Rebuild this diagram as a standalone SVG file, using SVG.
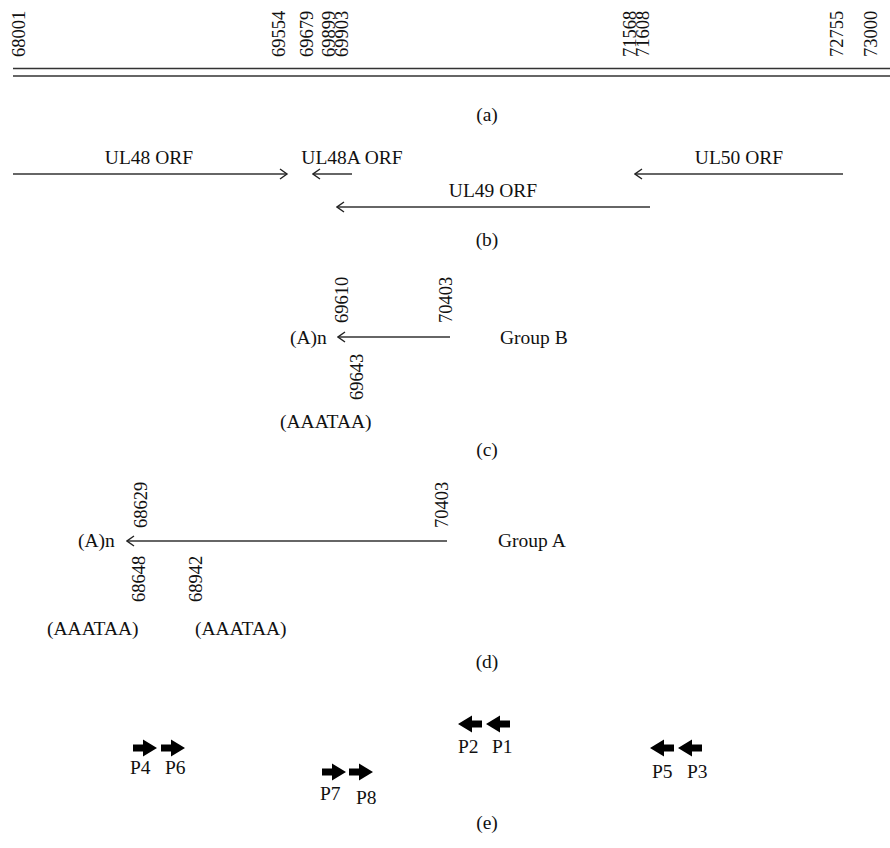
<svg xmlns="http://www.w3.org/2000/svg" width="890" height="848" viewBox="0 0 890 848" font-family="'Liberation Serif', 'Times New Roman', 'DejaVu Serif', serif">
  <style>
    text { font-family: "Liberation Serif", "Times New Roman", "DejaVu Serif", serif; font-size: 19.5px; fill: #111; }
    .num { font-size: 18.5px; }
    .mid { text-anchor: middle; }
    .ln { stroke: #333; stroke-width: 1.4; fill: none; }
  </style>
  <defs>
    <!-- open chevron head, tip at the line end -->
    <marker id="chev" viewBox="0 0 10 12" refX="8.5" refY="6" markerWidth="10" markerHeight="12" markerUnits="userSpaceOnUse" orient="auto">
      <path d="M1.5,1 L8.5,6 L1.5,11" fill="none" stroke="#222" stroke-width="1.4"/>
    </marker>
    <!-- solid primer arrow, pointing right -->
    <path id="blk" d="M0,-3.5 H10 V-8.5 L24,0 L10,8.5 V3.5 H0 Z" fill="#000"/>
  </defs>
  <rect width="890" height="848" fill="#fff"/>

  <!-- (a) genome coordinate scale -->
  <g id="scale">
    <line class="ln" x1="13" y1="68.5" x2="890" y2="68.5"/>
    <line class="ln" x1="13" y1="76" x2="890" y2="76"/>
    <text class="num" transform="translate(25,57) rotate(-90)">68001</text>
    <text class="num" transform="translate(285,57) rotate(-90)">69554</text>
    <text class="num" transform="translate(313,57) rotate(-90)">69679</text>
    <text class="num" transform="translate(335,57) rotate(-90)">69899</text>
    <text class="num" transform="translate(348,57) rotate(-90)">69903</text>
    <text class="num" transform="translate(636,57) rotate(-90)">71568</text>
    <text class="num" transform="translate(649,57) rotate(-90)">71608</text>
    <text class="num" transform="translate(843,57) rotate(-90)">72755</text>
    <text class="num" transform="translate(877,57) rotate(-90)">73000</text>
    <text class="mid" x="487" y="121">(a)</text>
  </g>

  <!-- (b) open reading frames -->
  <g id="orfs">
    <g id="ul48">
      <text class="mid" x="149" y="164">UL48 ORF</text>
    </g>
    <g id="ul48a">
      <text class="mid" x="352" y="164">UL48A ORF</text>
    </g>
    <g id="ul49">
      <text class="mid" x="493" y="197">UL49 ORF</text>
    </g>
    <g id="ul50">
      <text class="mid" x="739" y="164">UL50 ORF</text>
    </g>
    <text class="mid" x="487" y="246">(b)</text>
  </g>

  <!-- (c) Group B transcript -->
  <g id="groupB">
    <text class="num" transform="translate(348,323) rotate(-90)">69610</text>
    <text class="num" transform="translate(452,323) rotate(-90)">70403</text>
    <text class="num" transform="translate(363,400) rotate(-90)">69643</text>
    <text x="290" y="344">(A)n</text>
    <text x="500" y="344">Group B</text>
    <text x="280" y="428">(AAATAA)</text>
    <text class="mid" x="487" y="456">(c)</text>
  </g>

  <!-- (d) Group A transcript -->
  <g id="groupA">
    <text class="num" transform="translate(147,528) rotate(-90)">68629</text>
    <text class="num" transform="translate(448,528) rotate(-90)">70403</text>
    <text class="num" transform="translate(145,602) rotate(-90)">68648</text>
    <text class="num" transform="translate(202,602) rotate(-90)">68942</text>
    <text x="78" y="547">(A)n</text>
    <text x="498" y="547">Group A</text>
    <text x="47" y="635">(AAATAA)</text>
    <text x="195" y="635">(AAATAA)</text>
    <text class="mid" x="487" y="668">(d)</text>
  </g>

  <!-- (e) primer positions -->
  <g id="primers">
    <g id="p4"><use href="#blk" transform="translate(133,748)"/><text x="130" y="774">P4</text></g>
    <g id="p6"><use href="#blk" transform="translate(161,748)"/><text x="165" y="774">P6</text></g>
    <g id="p7"><use href="#blk" transform="translate(322,772)"/><text x="320" y="800">P7</text></g>
    <g id="p8"><use href="#blk" transform="translate(349,772)"/><text x="356" y="804">P8</text></g>
    <g id="p2"><use href="#blk" transform="translate(482,724) scale(-1,1)"/><text x="458" y="753">P2</text></g>
    <g id="p1"><use href="#blk" transform="translate(510,724) scale(-1,1)"/><text x="492" y="753">P1</text></g>
    <g id="p5"><use href="#blk" transform="translate(674,748) scale(-1,1)"/><text x="652" y="778">P5</text></g>
    <g id="p3"><use href="#blk" transform="translate(702,748) scale(-1,1)"/><text x="687" y="778">P3</text></g>
    <text class="mid" x="487" y="829">(e)</text>
  </g>

  <!-- connectors: ORF and transcript arrows -->
  <g id="connectors">
    <line class="ln" x1="13" y1="174" x2="287" y2="174" marker-end="url(#chev)"/>
    <line class="ln" x1="352" y1="174" x2="313" y2="174" marker-end="url(#chev)"/>
    <line class="ln" x1="650" y1="207" x2="337" y2="207" marker-end="url(#chev)"/>
    <line class="ln" x1="843" y1="174" x2="635" y2="174" marker-end="url(#chev)"/>
    <line class="ln" x1="450" y1="337" x2="338" y2="337" marker-end="url(#chev)"/>
    <line class="ln" x1="447" y1="541" x2="127" y2="541" marker-end="url(#chev)"/>
  </g>
</svg>
